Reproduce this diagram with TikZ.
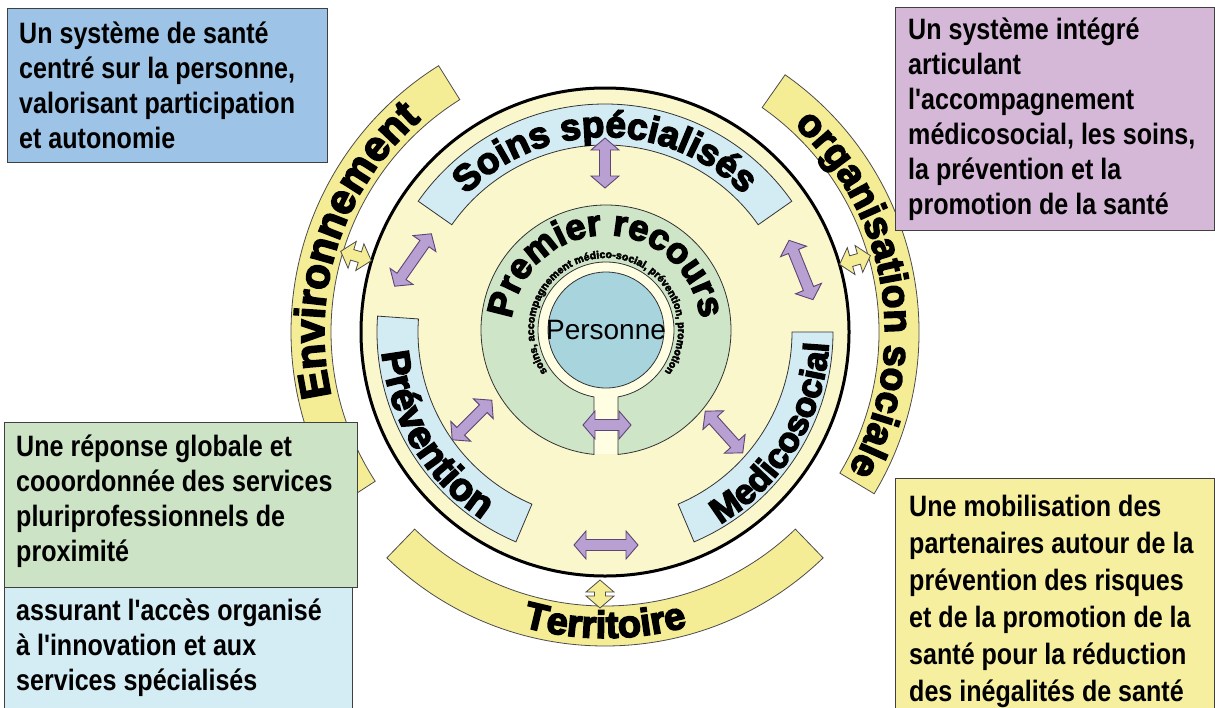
\documentclass[tikz,border=0pt]{standalone}
\usepackage{fontspec}
\setmainfont{Liberation Sans}
\newfontfamily\boxfont{Liberation Sans}[FakeStretch=0.85]
\newfontfamily\heavyfont{Liberation Sans}[FakeBold=4]
\usetikzlibrary{calc,decorations.text}

\definecolor{bandyellow}{HTML}{F5EC96}
\definecolor{discyellow}{HTML}{FAF7CD}
\definecolor{bandblue}{HTML}{D3ECF3}
\definecolor{ringgreen}{HTML}{CFE5C8}
\definecolor{ringcream}{HTML}{FFFDE2}
\definecolor{personblue}{HTML}{A8D4DE}
\definecolor{arrowfill}{HTML}{B9A0D2}
\definecolor{arrowline}{HTML}{5E4575}
\definecolor{boxblue}{HTML}{9DC3E6}
\definecolor{boxmauve}{HTML}{D5B8D8}
\definecolor{boxgreen}{HTML}{CCE3C5}
\definecolor{boxsky}{HTML}{D4ECF4}
\definecolor{boxyellow}{HTML}{F7EFA0}
\definecolor{boxline}{HTML}{404040}

% annular sector around (c): [style]{start}{end}{inner}{outer}
\newcommand{\ringsector}[5][]{%
    \draw[#1] ($(c)+(#2:#5)$) arc[start angle=#2, end angle=#3, radius=#5]
        -- ($(c)+(#3:#4)$) arc[start angle=#3, end angle=#2, radius=#4] -- cycle;}

% block arrow with two heads: [style]{centre}{angle}{length}
\newcommand{\dblarrow}[4][]{%
    \begin{scope}[shift={#2}, rotate=#3]
        \draw[#1] ({-(#4)/2},0) -- ({-(#4)/2+12},14) -- ({-(#4)/2+12},5.5)
            -- ({(#4)/2-12},5.5) -- ({(#4)/2-12},14) -- ({(#4)/2},0)
            -- ({(#4)/2-12},-14) -- ({(#4)/2-12},-5.5) -- ({-(#4)/2+12},-5.5)
            -- ({-(#4)/2+12},-14) -- cycle;
    \end{scope}}

\begin{document}
\begin{tikzpicture}[%
            x=1pt, y=1pt,
            outerband/.style={draw=black!70, line width=0.8pt, fill=bandyellow},
            innerband/.style={draw=black!80, line width=0.8pt, fill=bandblue},
            ringline/.style={draw=black!80, line width=0.8pt},
            purplearrow/.style={draw=arrowline, line width=0.9pt, fill=arrowfill},
            yellowarrow/.style={draw=black!70, line width=0.8pt, fill=bandyellow},
            infobox/.style={draw=boxline, line width=1pt, anchor=north west, inner sep=0pt},
            boxtext/.style={anchor=west, align=left, inner sep=0pt,
                font=\boxfont\bfseries\fontsize{29.5}{35}\selectfont},
        ]
        \useasboundingbox (0,0) rectangle (1215,-707);
        \coordinate (c) at (605,-332);
        \coordinate (p) at (606,-330);

        % outer bands
        \ringsector[outerband]{122}{213}{274}{314}
        \ringsector[outerband]{-31}{55}{274}{314}
        \ringsector[outerband]{226}{314}{274}{314}

        % main disc and its bands
        \draw[line width=3pt, fill=discyellow] (c) circle[radius=244];
        \ringsector[innerband]{35}{145}{187}{228}
        \ringsector[innerband]{176}{247}{187}{228}
        \ringsector[innerband]{293}{360}{187}{228}

        % premier recours ring
        \fill[ringcream] (p) circle[radius=68];
        \fill[ringcream] ($(p)+(-12,-60)$) rectangle ($(p)+(12,-124)$);
        \draw[ringline, fill=ringgreen] ($(p)+(-84.5:125)$) arc[start angle=-84.5, end angle=264.5, radius=125]
            -- ($(p)+(259.8:68)$) arc[start angle=259.8, end angle=-79.8, radius=68] -- cycle;
        \draw[ringline, fill=personblue] (p) circle[radius=58];
        \node[font=\fontsize{28}{30}\selectfont] (personne) at (p) {Personne};

        % labels along the rings
        \path[decorate, decoration={text along path, text align=center,
            text={|\heavyfont\bfseries\fontsize{37}{40}\selectfont|Soins spécialisés}}]
            ($(c)+(150:195)$) arc[start angle=150, end angle=30, radius=195];
        \path[decorate, decoration={text along path, text align=center,
            text={|\heavyfont\bfseries\fontsize{39}{40}\selectfont|Prévention}}]
            ($(c)+(171:224)$) arc[start angle=171, end angle=251, radius=224];
        \path[decorate, decoration={text along path, text align=center,
            text={|\heavyfont\bfseries\fontsize{35}{40}\selectfont|Medicosocial}}]
            ($(c)+(290:224)$) arc[start angle=290, end angle=368, radius=224];
        \path[decorate, decoration={text along path, text align=center,
            text={|\heavyfont\bfseries\fontsize{42}{44}\selectfont|Environnement}}]
            ($(c)+(215:281)$) arc[start angle=215, end angle=109, radius=281];
        \path[decorate, decoration={text along path, text align=center,
            text={|\heavyfont\bfseries\fontsize{39}{44}\selectfont|organisation sociale}}]
            ($(c)+(64:280)$) arc[start angle=64, end angle=-46, radius=280];
        \path[decorate, decoration={text along path, text align=center,
            text={|\heavyfont\bfseries\fontsize{38}{44}\selectfont|Territoire}}]
            ($(c)+(240:306)$) arc[start angle=240, end angle=300, radius=306];
        \path[decorate, decoration={text along path, text align=center,
            text={|\heavyfont\bfseries\fontsize{36}{40}\selectfont|Premier recours}}]
            ($(p)+(188:95)$) arc[start angle=188, end angle=-8, radius=95];
        \path[decorate, decoration={text along path, text align=center,
            text={|\heavyfont\bfseries\fontsize{10.6}{12}\selectfont|soins, accompagnement médico-social, prévention, promotion}}]
            ($(p)+(240:72)$) arc[start angle=240, end angle=-60, radius=72];

        % arrows between the parts
        \dblarrow[purplearrow]{(605,-163)}{90}{50}
        \dblarrow[purplearrow]{(413,-260)}{55}{64}
        \dblarrow[purplearrow]{(801,-270)}{112}{64}
        \dblarrow[purplearrow]{(472,-420)}{45}{56}
        \dblarrow[purplearrow]{(724,-432)}{-48}{56}
        \dblarrow[purplearrow]{(607,-425)}{0}{48}
        \dblarrow[purplearrow]{(606,-545)}{0}{64}
        \dblarrow[yellowarrow]{(356,-256)}{163}{32}
        \dblarrow[yellowarrow]{(855,-260)}{16}{32}
        \dblarrow[yellowarrow]{(600,-594)}{90}{28}

        % boxes
        \node[infobox, fill=boxblue, minimum width=320, minimum height=154] (sante) at (7,-8) {};
        \node[boxtext] at ([xshift=12]sante.west) {Un système de santé\\centré sur la personne,\\valorisant participation\\et autonomie};
        \node[infobox, fill=boxmauve, minimum width=319, minimum height=223] (integre) at (895,-7) {};
        \node[boxtext] at ([xshift=13]integre.west) {Un système intégré\\articulant\\l'accompagnement\\médicosocial, les soins,\\la prévention et la\\promotion de la santé};
        \node[infobox, fill=boxsky, minimum width=348, minimum height=130] (acces) at (4,-587) {};
        \node[boxtext] at ([xshift=12, yshift=5]acces.west) {assurant l'accès organisé\\à l'innovation et aux\\services spécialisés};
        \node[infobox, fill=boxgreen, minimum width=353, minimum height=165] (reponse) at (4,-422) {};
        \node[boxtext] at ([xshift=12, yshift=4]reponse.west) {Une réponse globale et\\cooordonnée des services\\pluriprofessionnels de\\proximité};
        \node[infobox, fill=boxyellow, minimum width=319, minimum height=245] (mobilisation) at (895,-478) {};
        \node[boxtext, font=\boxfont\bfseries\fontsize{29.5}{37}\selectfont] at ([xshift=14, yshift=0]mobilisation.west) {Une mobilisation des\\partenaires autour de la\\prévention des risques\\et de la promotion de la\\santé pour la réduction\\des inégalités de santé};
    \end{tikzpicture}
\end{document}
